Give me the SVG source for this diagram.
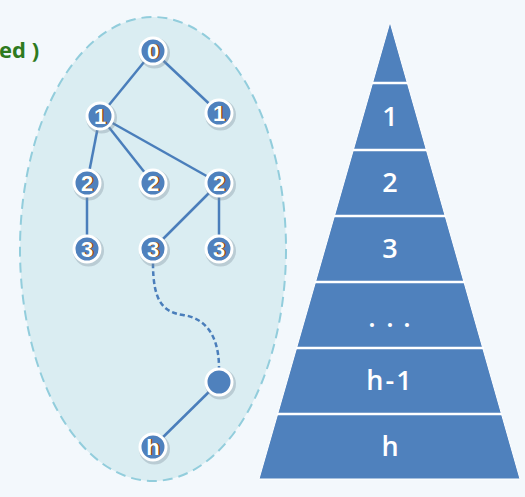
<svg xmlns="http://www.w3.org/2000/svg" width="525" height="497" viewBox="0 0 525 497">
<defs>
<style>
.edge{stroke:#4a7ebb;stroke-width:2.5;fill:none}
.dash{stroke:#4a7ebb;stroke-width:2.5;fill:none;stroke-dasharray:5 3}
.nc{fill:#4f81bd;stroke:#ffffff;stroke-width:3}
.sh{fill:#7f8f9f;opacity:0.35}
.nt{font-family:"Liberation Sans",Arial,sans-serif;font-weight:bold;font-size:22px;fill:#ffffff;text-anchor:middle}
.ns{font-family:"Liberation Sans",Arial,sans-serif;font-weight:bold;font-size:22px;fill:#7a4a10;text-anchor:middle}
.pl{font-family:"Open Sans","Liberation Sans",sans-serif;font-weight:600;font-size:27px;fill:#ffffff;text-anchor:middle}
.sep{stroke:#ffffff;stroke-width:2.5}
</style>
</defs>
<rect width="525" height="497" fill="#f3f8fc"/>
<text x="-1" y="58" font-family="Open Sans, Liberation Sans, sans-serif" font-weight="bold" font-size="22" fill="#2e7a1e">ed )</text>
<ellipse cx="153" cy="249" rx="133" ry="232" fill="#daedf2" stroke="#92cddc" stroke-width="2" stroke-dasharray="10 6"/>
<g id="connectors">
<line class="edge" x1="153" y1="51" x2="100" y2="116"/>
<line class="edge" x1="153" y1="51" x2="219" y2="113"/>
<line class="edge" x1="100" y1="116" x2="87" y2="183"/>
<line class="edge" x1="100" y1="116" x2="153" y2="183"/>
<line class="edge" x1="100" y1="116" x2="219" y2="183"/>
<line class="edge" x1="87" y1="183" x2="87" y2="249"/>
<line class="edge" x1="219" y1="183" x2="153" y2="249"/>
<line class="edge" x1="219" y1="183" x2="219" y2="249"/>
<path class="dash" d="M153,263 C153,300 162,312 183,315 C205,318 219,335 219,368"/>
<line class="edge" x1="219" y1="382" x2="153" y2="447"/>
</g>
<g id="n0"><circle class="sh" cx="154.5" cy="53" r="15.5"/><circle class="nc" cx="153" cy="51" r="13"/><text class="ns" x="154.5" y="59">0</text><text class="nt" x="153" y="59">0</text></g>
<g id="n1a"><circle class="sh" cx="101.5" cy="118" r="15.5"/><circle class="nc" cx="100" cy="116" r="13"/><text class="ns" x="101.5" y="124">1</text><text class="nt" x="100" y="124">1</text></g>
<g id="n1b"><circle class="sh" cx="220.5" cy="115" r="15.5"/><circle class="nc" cx="219" cy="113" r="13"/><text class="ns" x="220.5" y="121">1</text><text class="nt" x="219" y="121">1</text></g>
<g id="n2a"><circle class="sh" cx="88.5" cy="185" r="15.5"/><circle class="nc" cx="87" cy="183" r="13"/><text class="ns" x="88.5" y="191">2</text><text class="nt" x="87" y="191">2</text></g>
<g id="n2b"><circle class="sh" cx="154.5" cy="185" r="15.5"/><circle class="nc" cx="153" cy="183" r="13"/><text class="ns" x="154.5" y="191">2</text><text class="nt" x="153" y="191">2</text></g>
<g id="n2c"><circle class="sh" cx="220.5" cy="185" r="15.5"/><circle class="nc" cx="219" cy="183" r="13"/><text class="ns" x="220.5" y="191">2</text><text class="nt" x="219" y="191">2</text></g>
<g id="n3a"><circle class="sh" cx="88.5" cy="251" r="15.5"/><circle class="nc" cx="87" cy="249" r="13"/><text class="ns" x="88.5" y="257">3</text><text class="nt" x="87" y="257">3</text></g>
<g id="n3b"><circle class="sh" cx="154.5" cy="251" r="15.5"/><circle class="nc" cx="153" cy="249" r="13"/><text class="ns" x="154.5" y="257">3</text><text class="nt" x="153" y="257">3</text></g>
<g id="n3c"><circle class="sh" cx="220.5" cy="251" r="15.5"/><circle class="nc" cx="219" cy="249" r="13"/><text class="ns" x="220.5" y="257">3</text><text class="nt" x="219" y="257">3</text></g>
<g id="nx"><circle class="sh" cx="220.5" cy="384" r="15.5"/><circle class="nc" cx="219" cy="382" r="13"/></g>
<g id="nh"><circle class="sh" cx="154.5" cy="449" r="15.5"/><circle class="nc" cx="153" cy="447" r="13"/><text class="ns" x="154.5" y="455">h</text><text class="nt" x="153" y="455">h</text></g>
<g id="pyramid">
<polygon points="390,22 520,479 259,479" fill="#4f81bd" stroke="#ffffff" stroke-width="1"/>
<line class="sep" x1="372" y1="83" x2="408" y2="83"/>
<line class="sep" x1="353" y1="150" x2="427" y2="150"/>
<line class="sep" x1="334" y1="216" x2="446" y2="216"/>
<line class="sep" x1="315" y1="282" x2="465" y2="282"/>
<line class="sep" x1="296" y1="348" x2="484" y2="348"/>
<line class="sep" x1="277" y1="414" x2="502" y2="414"/>
<text class="pl" x="390" y="126">1</text>
<text class="pl" x="390" y="192">2</text>
<text class="pl" x="390" y="258">3</text>
<text class="pl" x="372 390 407" y="327" font-size="36">...</text>
<text class="pl" x="390" y="390" letter-spacing="2">h-1</text>
<text class="pl" x="390" y="456">h</text>
</g>
</svg>
